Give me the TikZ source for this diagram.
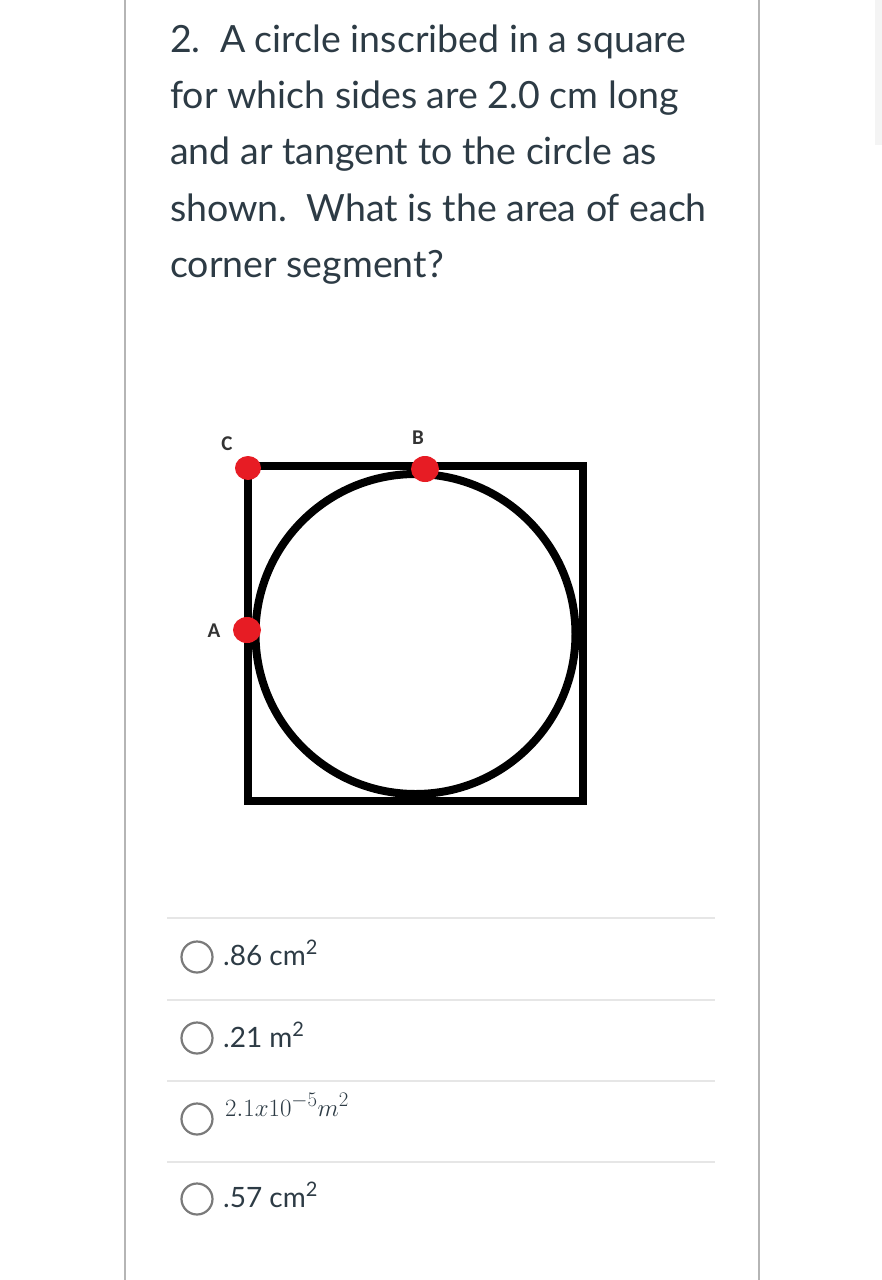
\documentclass[tikz,border=0pt]{standalone}
\usetikzlibrary{shapes.geometric}
\usepackage{fontspec}
\setmainfont{Lato}
\newfontfamily\lblfont{Carlito}
\definecolor{txt}{HTML}{2D3B45}
\definecolor{bordercol}{HTML}{B5B5B5}
\definecolor{sepcol}{HTML}{E6E6E6}
\definecolor{radiocol}{HTML}{7A7A7A}
\definecolor{dotred}{HTML}{E71C24}
\definecolor{scrollcol}{HTML}{F4F4F4}
\begin{document}
\begin{tikzpicture}[x=1pt,y=-1pt,
  qline/.style={anchor=base west, inner sep=0, text=txt, font=\fontsize{37.5}{44}\selectfont},
  opt/.style={anchor=base west, inner sep=0, text=txt, font=\fontsize{28}{32}\selectfont},
  radio/.style={circle, draw=radiocol, line width=2.2pt, minimum size=31pt, inner sep=0},
  lbl/.style={inner sep=0, text=black!80, font=\lblfont\bfseries\fontsize{21}{24}\selectfont},
  reddot/.style={ellipse, fill=dotred, inner sep=0},
  sepline/.style={draw=sepcol, line width=1.5pt},
  border/.style={draw=bordercol, line width=2pt}
]
\useasboundingbox (0,0) rectangle (882,1280);
\fill[white] (0,0) rectangle (882,1280);
% page borders and scrollbar
\coordinate (bl1) at (124.5,0); \coordinate (bl2) at (124.5,1280);
\coordinate (br1) at (759,0);   \coordinate (br2) at (759,1280);
\draw[border] (bl1) -- (bl2);
\draw[border] (br1) -- (br2);
\fill[scrollcol] (875,0) rectangle (882,145);
% question text
\node[qline] (q1) at (170,52)  {2.\ \ A circle inscribed in a square};
\node[qline] (q2) at (170,108) {for which sides are 2.0 cm long};
\node[qline] (q3) at (170,164) {and ar tangent to the circle as};
\node[qline] (q4) at (170,221) {shown.\ \ What is the area of each};
\node[qline] (q5) at (170,277) {corner segment?};
% diagram
\node[draw=black, line width=8pt, minimum size=335pt, inner sep=0] (sq) at (415,633.5) {};
\node[circle, draw=black, line width=8pt, minimum size=320pt, inner sep=0] (circ) at (415.5,634) {};
\node[reddot, minimum width=26pt, minimum height=24pt] (C) at (248,468) {};
\node[reddot, minimum width=28pt, minimum height=26pt] (B) at (425,469) {};
\node[reddot, minimum width=28pt, minimum height=26pt] (A) at (247,630) {};
\node[lbl] (Cl) at (227,444) {C};
\node[lbl] (Bl) at (418,438) {B};
\node[lbl] (Al) at (214,631) {A};
% answer separators
\coordinate (s1a) at (167,918);  \coordinate (s1b) at (715,918);
\coordinate (s2a) at (167,1000); \coordinate (s2b) at (715,1000);
\coordinate (s3a) at (167,1081); \coordinate (s3b) at (715,1081);
\coordinate (s4a) at (167,1162); \coordinate (s4b) at (715,1162);
\draw[sepline] (s1a) -- (s1b);
\draw[sepline] (s2a) -- (s2b);
\draw[sepline] (s3a) -- (s3b);
\draw[sepline] (s4a) -- (s4b);
% options
\node[radio] (r1) at (197,957) {};
\node[opt] (o1) at (223,965) {.86 cm\raisebox{11pt}{\fontsize{20}{24}\selectfont 2}};
\node[radio] (r2) at (197,1038) {};
\node[opt] (o2) at (223,1047) {.21 m\raisebox{11pt}{\fontsize{20}{24}\selectfont 2}};
\node[radio] (r3) at (197,1119) {};
\node[anchor=base west, inner sep=0, text=txt] (o3) at (225,1116) {\fontsize{27.5}{32}\selectfont$2.1x10^{-5}m^2$};
\node[radio] (r4) at (197,1199) {};
\node[opt] (o4) at (223,1207) {.57 cm\raisebox{11pt}{\fontsize{20}{24}\selectfont 2}};
\end{tikzpicture}
\end{document}
